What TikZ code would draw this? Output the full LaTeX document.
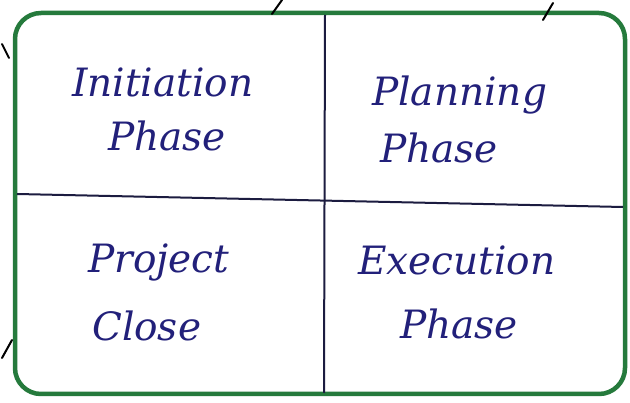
\documentclass[tikz,border=0pt]{standalone}
\usepackage{fontspec}
\setmainfont{DejaVu Serif}
\begin{document}
\begin{tikzpicture}[x=1pt,y=-1pt,
  frame/.style={draw=framegreen,line width=4.5pt,rounded corners=26pt},
  divider/.style={draw=divnavy,line width=2pt},
  stroke/.style={draw=black,line width=2pt,line cap=round},
  label/.style={text=inkblue,font=\fontsize{39}{44}\selectfont\itshape,inner sep=0pt,anchor=west}]
\definecolor{framegreen}{HTML}{257A3C}
\definecolor{divnavy}{HTML}{1C1C40}
\definecolor{inkblue}{HTML}{22207A}
\useasboundingbox (0,0) rectangle (630,403);
\fill[white] (0,0) rectangle (630,403);
% outer frame
\draw[frame] (15,13) rectangle (625,394);
% dividers
\coordinate (vt) at (325,15);
\coordinate (vb) at (324,393);
\coordinate (hl) at (17,194);
\coordinate (hr) at (623,207);
\draw[divider] (vt) -- (vb);
\draw[divider] (hl) -- (hr);
% stray strokes outside the frame
\coordinate (s1a) at (272,14); \coordinate (s1b) at (282,0);
\coordinate (s2a) at (543,20); \coordinate (s2b) at (553,3);
\coordinate (s3a) at (2,44); \coordinate (s3b) at (9,58);
\coordinate (s4a) at (2,358); \coordinate (s4b) at (12,340);
\draw[stroke] (s1a) -- (s1b);
\draw[stroke] (s2a) -- (s2b);
\draw[stroke] (s3a) -- (s3b);
\draw[stroke] (s4a) -- (s4b);
% labels
\node[label] (init1) at (72,82) {Initiation};
\node[label] (init2) at (108,136) {Phase};
\node[label] (plan1) at (372,95) {Planning};
\node[label] (plan2) at (380,148) {Phase};
\node[label] (close1) at (88,262) {Project};
\node[label] (close2) at (92,326) {Close};
\node[label] (exec1) at (358,260) {Execution};
\node[label] (exec2) at (400,324) {Phase};
\end{tikzpicture}
\end{document}
